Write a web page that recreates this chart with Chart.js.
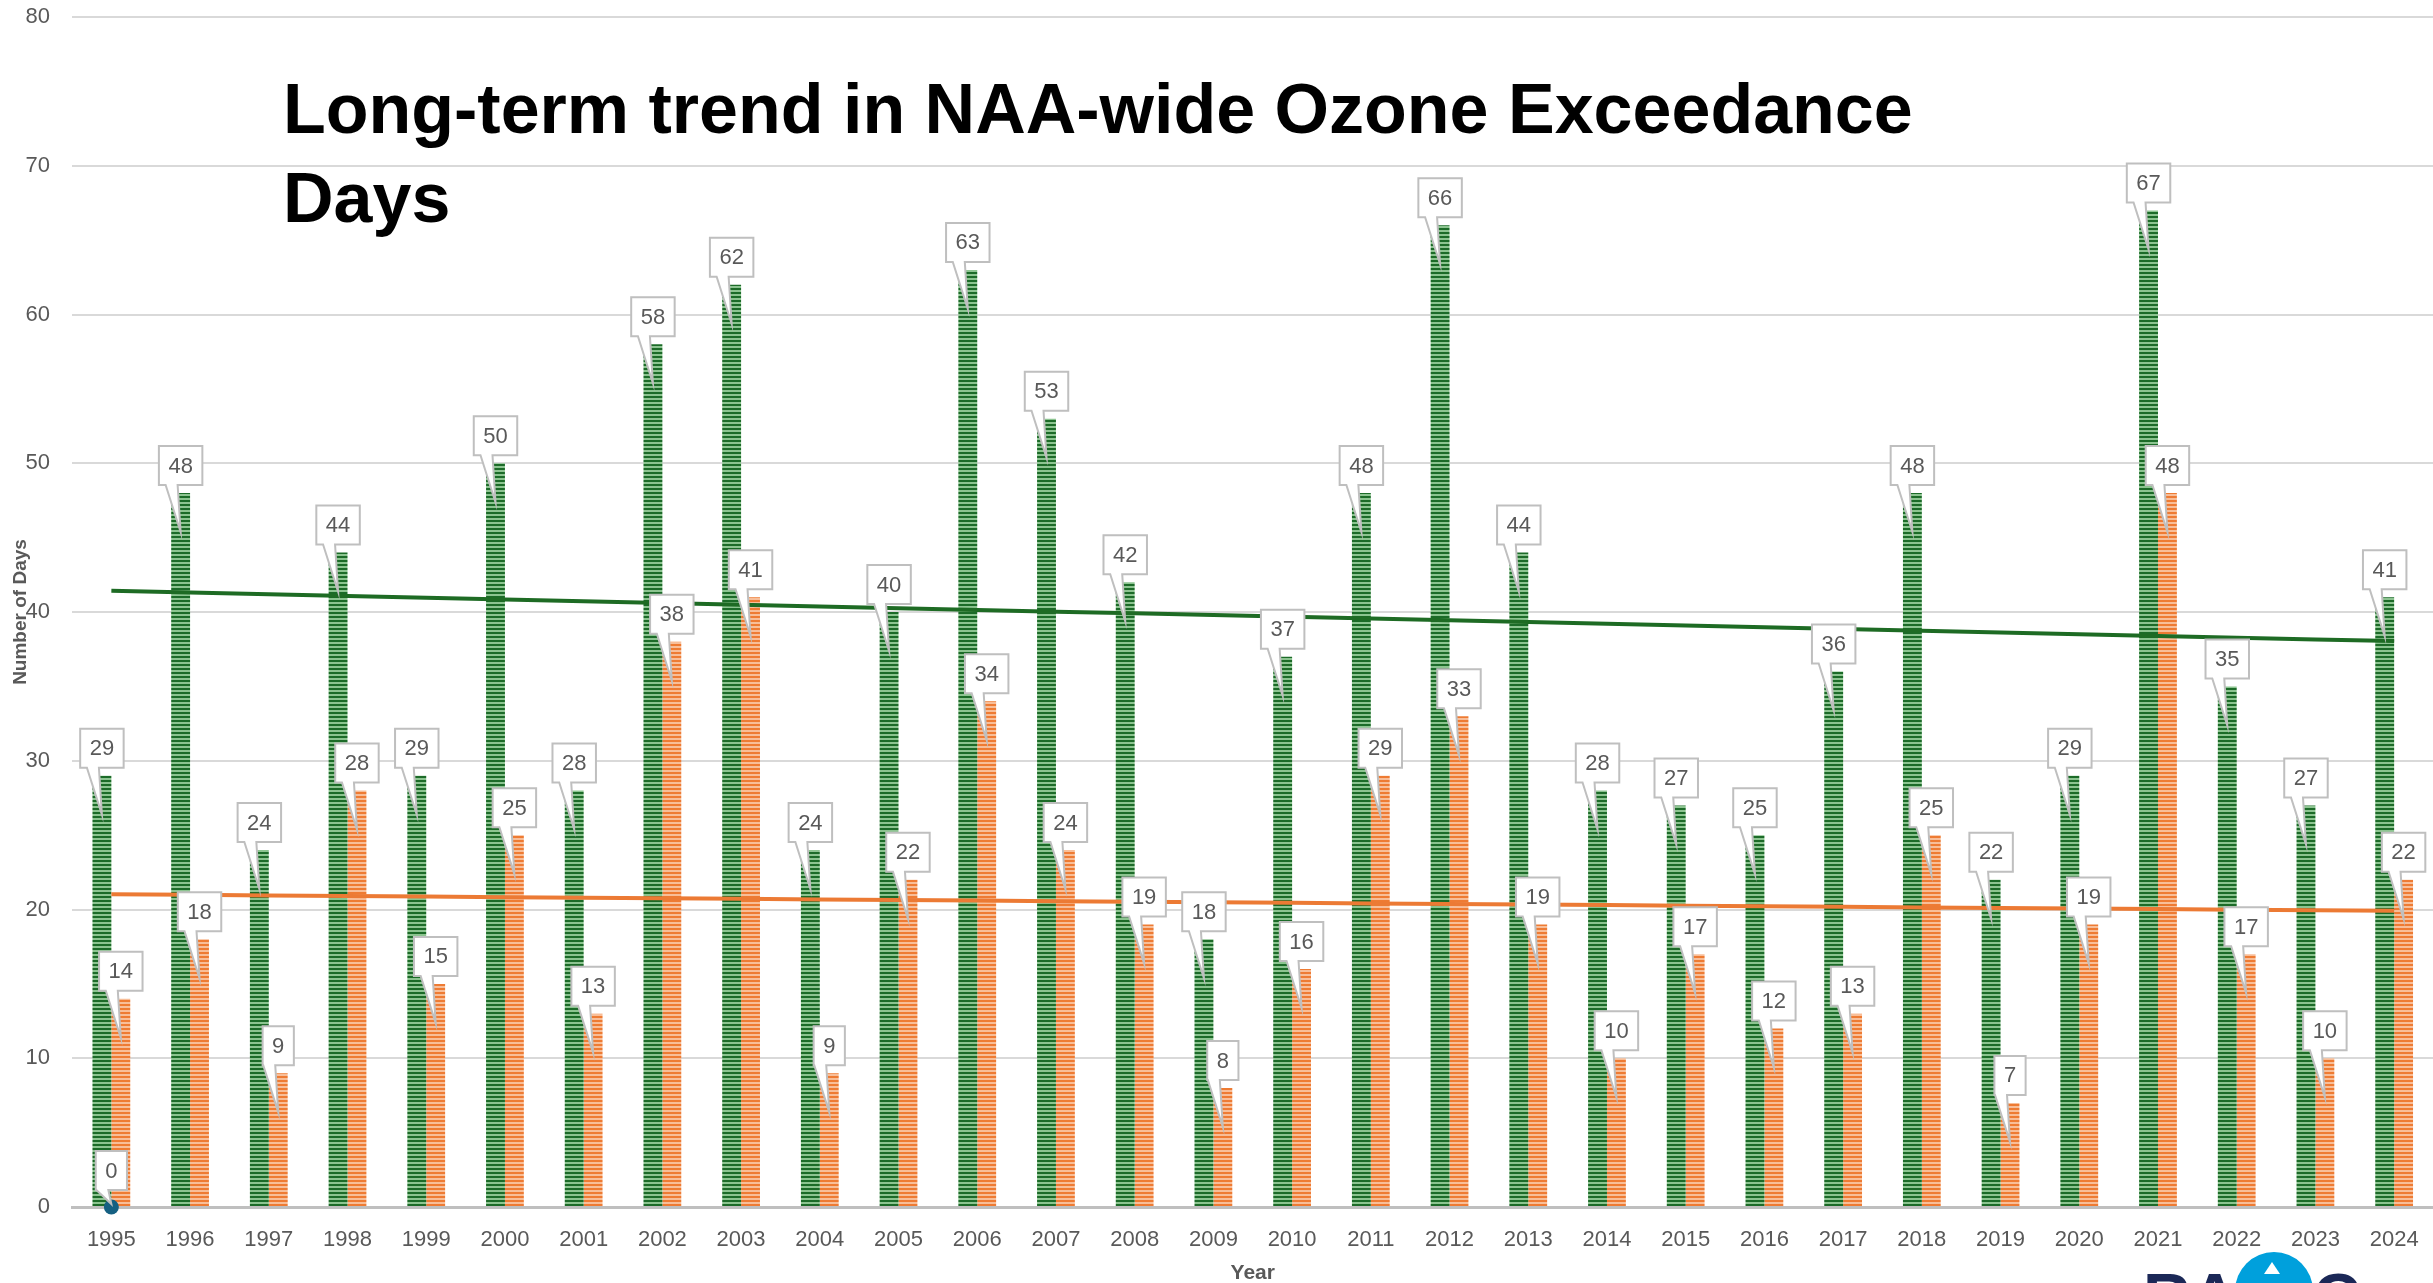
<!DOCTYPE html>
<html lang="en">

<head>
  <meta charset="utf-8">
  <title>Long-term trend in NAA-wide Ozone Exceedance Days</title>
  <script src="https://cdn.jsdelivr.net/npm/chart.js@4.4.1/dist/chart.umd.min.js"></script>
  <style>
    html, body { margin: 0; padding: 0; background: #fff; overflow: hidden; }
    #wrap { position: relative; width: 2441px; height: 1283px; }
    #myChart { position: absolute; left: 0; top: 0; }
    #title {
      position: absolute; left: 283px; top: 65px; margin: 0;
      font: bold 70px/89px "Liberation Sans", Arial, sans-serif;
      color: #000; white-space: nowrap;
    }
    #logo {
      position: absolute; left: 2143px; top: 1252px; width: 232px; height: 60px;
      background: #fff; overflow: hidden;
    }
    #logo span {
      position: absolute; top: 12px;
      font: bold 66px/66px "Liberation Sans", Arial, sans-serif; color: #1B2857;
    }
    #logo .circle {
      position: absolute; left: 92px; top: 0; width: 78px; height: 78px;
      border-radius: 50%; background: #00A0DC;
    }
    #logo .peak {
      position: absolute; left: 121px; top: 10px; width: 0; height: 0;
      border-left: 8px solid transparent; border-right: 8px solid transparent;
      border-bottom: 12px solid #fff;
    }
  </style>
</head>

<body>
  <div id="wrap">
    <canvas id="myChart" width="2441" height="1283"></canvas>
    <h1 id="title">Long-term trend in NAA-wide Ozone Exceedance<br>Days</h1>
    <div id="logo">
      <span style="left:0">RA</span>
      <div class="circle"></div>
      <div class="peak"></div>
      <span style="left:170px">C</span>
    </div>
  </div>

  <script>
    // values
    const years = ['1995', '1996', '1997', '1998', '1999', '2000', '2001', '2002', '2003', '2004',
      '2005', '2006', '2007', '2008', '2009', '2010', '2011', '2012', '2013', '2014',
      '2015', '2016', '2017', '2018', '2019', '2020', '2021', '2022', '2023', '2024'];
    const greenDays = [29, 48, 24, 44, 29, 50, 28, 58, 62, 24,
      40, 63, 53, 42, 18, 37, 48, 66, 44, 28,
      27, 25, 36, 48, 22, 29, 67, 35, 27, 41];
    const orangeDays = [14, 18, 9, 28, 15, 25, 13, 38, 41, 9,
      22, 34, 24, 19, 8, 16, 29, 33, 19, 10,
      17, 12, 13, 25, 7, 19, 48, 17, 10, 22];
    const markerDays = [0];
    const yTicks = [0, 10, 20, 30, 40, 50, 60, 70, 80];

    // linear trendline (least squares), like Excel's
    function trend(values) {
      const n = values.length;
      let sx = 0, sy = 0, sxy = 0, sxx = 0;
      values.forEach((v, i) => { sx += i; sy += v; sxy += i * v; sxx += i * i; });
      const m = (n * sxy - sx * sy) / (n * sxx - sx * sx);
      const b = (sy - m * sx) / n;
      return values.map((v, i) => b + m * i);
    }

    const ctx = document.getElementById('myChart').getContext('2d');

    function stripes(dark, light) {
      const c = document.createElement('canvas');
      c.width = 1; c.height = 4;
      const g = c.getContext('2d');
      g.fillStyle = light; g.fillRect(0, 0, 1, 4);
      g.fillStyle = dark; g.fillRect(0, 0, 1, 2);
      return ctx.createPattern(c, 'repeat');
    }

    const calloutPlugin = {
      id: 'callouts',
      afterDatasetsDraw(chart) {
        const c = chart.ctx;
        c.save();
        c.font = '22px "Liberation Sans", Arial, sans-serif';
        c.textAlign = 'center';
        c.textBaseline = 'middle';
        chart.data.datasets.forEach((ds, di) => {
          if (!ds.callout) return;
          const meta = chart.getDatasetMeta(di);
          meta.data.forEach((el, i) => {
            const v = ds.data[i];
            if (v === null || v === undefined) return;
            const text = String(v);
            const w = c.measureText(text).width + 19;
            const h = 39;
            const cx = el.x;
            let bottom, tipY;
            if (ds.type === 'bar') { bottom = el.y - 8; tipY = el.y + 39; }
            else { bottom = el.y - 17; tipY = el.y - 3; }
            const left = cx - w / 2, top = bottom - h;
            c.beginPath();
            c.moveTo(left, top);
            c.lineTo(left + w, top);
            c.lineTo(left + w, bottom);
            c.lineTo(cx - 3, bottom);
            c.lineTo(cx, tipY);
            c.lineTo(cx - 15, bottom);
            c.lineTo(left, bottom);
            c.closePath();
            c.fillStyle = '#fff';
            c.fill();
            c.lineWidth = 2;
            c.strokeStyle = '#BFBFBF';
            c.stroke();
            c.fillStyle = '#595959';
            c.fillText(text, cx, top + h / 2 + 1);
          });
        });
        c.restore();
      }
    };

    Chart.defaults.font.family = '"Liberation Sans", Arial, sans-serif';
    Chart.defaults.color = '#595959';

    new Chart(ctx, {
      type: 'bar',
      data: {
        labels: years,
        datasets: [
          {
            type: 'line', label: 'Marker', data: markerDays, showLine: false,
            pointRadius: 7.5, pointBackgroundColor: '#156082', pointBorderWidth: 0,
            clip: false, order: 0, callout: true
          },
          {
            type: 'line', label: 'Trend 1', data: trend(greenDays),
            borderColor: '#1E6B24', borderWidth: 4, pointRadius: 0, order: 1
          },
          {
            type: 'line', label: 'Trend 2', data: trend(orangeDays),
            borderColor: '#EC7A34', borderWidth: 4, pointRadius: 0, order: 1
          },
          {
            type: 'bar', label: 'Series 1', data: greenDays,
            backgroundColor: stripes('#1C6B28', '#8CC490'),
            barPercentage: 1, categoryPercentage: 0.48, order: 2, callout: true
          },
          {
            type: 'bar', label: 'Series 2', data: orangeDays,
            backgroundColor: stripes('#EE7B33', '#F8BE98'),
            barPercentage: 1, categoryPercentage: 0.48, order: 2, callout: true
          }
        ]
      },
      options: {
        responsive: false,
        animation: false,
        layout: { padding: { top: 17, right: 0, bottom: 0, left: 0 } },
        plugins: {
          legend: { display: false },
          tooltip: { enabled: false }
        },
        scales: {
          x: {
            grid: { display: false },
            border: { display: true, color: '#BFBFBF', width: 3 },
            ticks: { font: { size: 22 }, color: '#595959', padding: 12, maxRotation: 0, autoSkip: false },
            title: {
              display: true, text: 'Year', color: '#595959',
              font: { size: 21, weight: 'bold', lineHeight: 1 }, padding: { top: 0, bottom: -1 }
            },
            afterFit: (s) => { s.height = 76; s.paddingLeft = 0; s.paddingRight = 0; }
          },
          y: {
            min: 0, max: 80,
            afterBuildTicks: (s) => { s.ticks = yTicks.map(v => ({ value: v })); },
            grid: { color: '#D9D9D9', lineWidth: 2, drawTicks: false },
            border: { display: false },
            ticks: { font: { size: 22 }, color: '#595959', padding: 22 },
            title: {
              display: true, text: 'Number of Days', color: '#595959',
              font: { size: 19, weight: 'bold' }, padding: { top: 9, bottom: 0 }
            },
            afterFit: (s) => { s.width = 72; s.paddingTop = 0; s.paddingBottom = 0; }
          }
        }
      },
      plugins: [calloutPlugin]
    });
  </script>
</body>

</html>
